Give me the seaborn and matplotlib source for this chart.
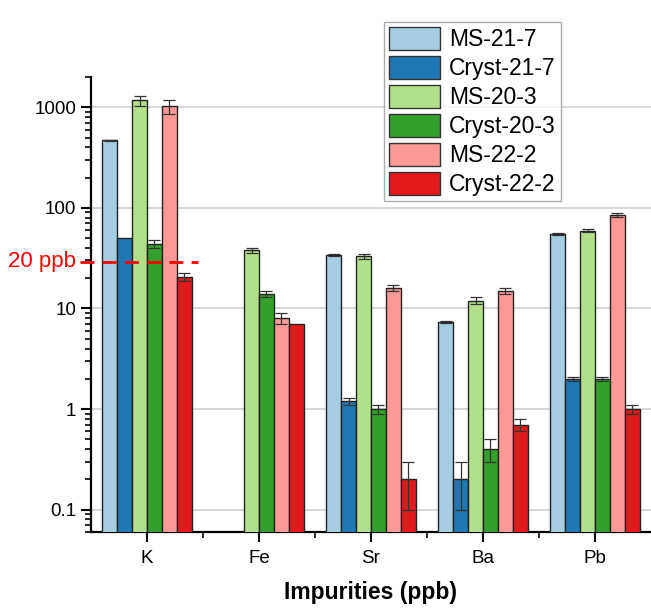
import numpy as np
import pandas as pd
import matplotlib
matplotlib.use("Agg")
import matplotlib.pyplot as plt
from matplotlib.container import BarContainer
from matplotlib.transforms import blended_transform_factory
import seaborn as sns
from matplotlib.ticker import LogLocator, FixedLocator, NullFormatter

elements = ["K", "Fe", "Sr", "Ba", "Pb"]
samples = ["MS-21-7", "Cryst-21-7", "MS-20-3", "Cryst-20-3", "MS-22-2", "Cryst-22-2"]

ms_21_7 = [470, np.nan, 34, 7.3, 55]
cryst_21_7 = [50, np.nan, 1.2, 0.2, 2.0]
ms_20_3 = [1170, 38, 33, 12, 59]
cryst_20_3 = [44, 14, 1.0, 0.4, 2.0]
ms_22_2 = [1020, 8, 16, 15, 85]
cryst_22_2 = [20.6, 7.0, 0.2, 0.7, 1.0]

err_ms_21_7 = [6, np.nan, 1, 0.2, 1]
err_cryst_21_7 = [0, np.nan, 0.1, 0.1, 0.1]
err_ms_20_3 = [130, 2, 2, 1, 2]
err_cryst_20_3 = [4, 1, 0.1, 0.1, 0.1]
err_ms_22_2 = [160, 1, 1, 1, 4]
err_cryst_22_2 = [2, 0, 0.1, 0.1, 0.1]

threshold = 29
threshold_label = "20 ppb"

colors = ["#a6cee3", "#1f78b4", "#b2df8a", "#33a02c", "#fb9a99", "#e31a1c"]

values = [ms_21_7, cryst_21_7, ms_20_3, cryst_20_3, ms_22_2, cryst_22_2]
errors = [err_ms_21_7, err_cryst_21_7, err_ms_20_3, err_cryst_20_3, err_ms_22_2, err_cryst_22_2]

rows = []
for s, vals, errs in zip(samples, values, errors):
    for e, v, er in zip(elements, vals, errs):
        rows.append({"element": e, "sample": s, "value": v, "err": er})
df = pd.DataFrame(rows)
err_lookup = {(r.element, r.sample): r.err for r in df.itertuples()}

sns.set_theme(style="white")
plt.rcParams["font.family"] = ["Liberation Sans", "DejaVu Sans"]
plt.rcParams["text.color"] = "black"

fig = plt.figure(figsize=(6.51, 6.08), dpi=100)
ax = fig.add_axes([91/651, 1 - 532/608, 1 - 91/651, (532 - 77)/608])

sns.barplot(data=df, x="element", y="value", hue="sample", order=elements,
            hue_order=samples, palette=colors, errorbar=None, width=0.8,
            edgecolor="#222222", linewidth=1.0, saturation=1, ax=ax, zorder=3)
ax.set_yscale("log")

# error bars from bar geometry
bar_containers = [c for c in ax.containers if isinstance(c, BarContainer)]
for j, cont in enumerate(bar_containers):
    for bar in cont.patches:
        if bar is None:
            continue
        h = bar.get_height()
        if not np.isfinite(h) or h <= 0:
            continue
        cx = bar.get_x() + bar.get_width() / 2
        cat = elements[int(round(cx))]
        er = err_lookup.get((cat, samples[j]), np.nan)
        if np.isfinite(er) and er > 0:
            ax.errorbar(cx, h, yerr=er, fmt="none", ecolor="#333333",
                        elinewidth=0.9, capsize=4, capthick=0.9, zorder=4)

ax.set_ylim(0.06, 2000)
ax.set_xlim(-0.5, 4.5)

ax.yaxis.set_major_locator(FixedLocator([0.1, 1, 10, 100, 1000]))
ax.set_yticklabels(["0.1", "1", "10", "100", "1000"])
ax.yaxis.set_minor_locator(LogLocator(base=10, subs=np.arange(2, 10)))
ax.yaxis.set_minor_formatter(NullFormatter())
ax.set_xticks(range(len(elements)))
ax.set_xticklabels(elements)
ax.xaxis.set_minor_locator(FixedLocator(np.arange(0.5, 4.5, 1)))

ax.tick_params(axis="both", which="major", direction="out", length=7, width=1.5,
               color="black", labelsize=13.5, labelcolor="black", left=True, bottom=True)
ax.tick_params(axis="both", which="minor", direction="out", length=4, width=1.2,
               color="black", left=True, bottom=True)
ax.tick_params(axis="x", which="major", pad=6)

ax.grid(axis="y", which="major", color="#d0d0d0", linewidth=1.2, zorder=0)
ax.set_axisbelow(True)
for side in ["top", "right"]:
    ax.spines[side].set_visible(False)
for side in ["left", "bottom"]:
    ax.spines[side].set_color("black")
    ax.spines[side].set_linewidth(1.6)

ax.set_xlabel("Impurities (ppb)", fontsize=16.5, fontweight="bold", labelpad=10,
              color="black")
ax.set_ylabel("")

# threshold line (x in figure fraction, y in data)
trans = blended_transform_factory(fig.transFigure, ax.transData)
ax.plot([80/651, 198/651], [threshold, threshold], transform=trans, color="red",
        linestyle=(0, (5, 3)), linewidth=2, clip_on=False, zorder=5)
ax.text(76/651, threshold, threshold_label, transform=trans, color="red",
        fontsize=16, ha="right", va="center")

# legend
handles, labels = ax.get_legend_handles_labels()
leg = ax.legend(handles, labels, loc="upper left", bbox_to_anchor=(384/651, 1 - 22/608),
                bbox_transform=fig.transFigure, fontsize=16.5, frameon=True, fancybox=False,
                handlelength=2.25, handleheight=1.2, handletextpad=0.4,
                labelspacing=0.2, borderpad=0.2, borderaxespad=0)
leg.get_frame().set_edgecolor("#999999")
leg.get_frame().set_linewidth(1.0)
for t in leg.get_texts():
    t.set_color("black")
for p in leg.get_patches():
    p.set_edgecolor("#333333")

fig.savefig("out.png", dpi=100)
